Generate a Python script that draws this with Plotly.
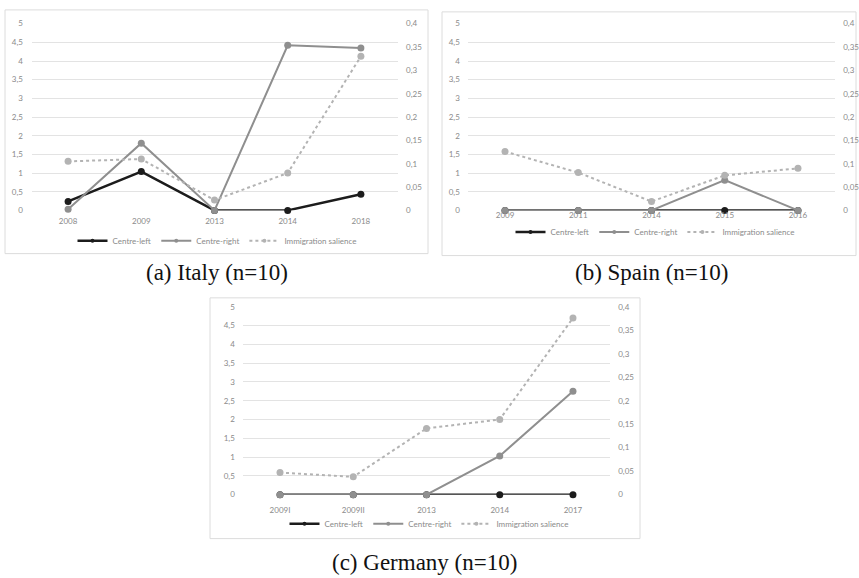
import plotly.graph_objects as go

# ---- data -------------------------------------------------------------
italy_years = ["2008", "2009", "2013", "2014", "2018"]
italy_centre_left = [0.24, 1.04, 0, 0, 0.43]
italy_centre_right = [0.03, 1.80, 0, 4.42, 4.35]
italy_salience = [0.105, 0.110, 0.022, 0.080, 0.330]

spain_years = ["2009", "2011", "2014", "2015", "2016"]
spain_centre_left = [0, 0, 0, 0, 0]
spain_centre_right = [0, 0, 0, 0.81, 0]
spain_salience = [0.126, 0.081, 0.019, 0.075, 0.090]

germany_years = ["2009I", "2009II", "2013", "2014", "2017"]
germany_centre_left = [0, 0, 0, 0, 0]
germany_centre_right = [0, 0, 0, 1.03, 2.75]
germany_salience = [0.047, 0.038, 0.141, 0.160, 0.376]

series_names = ["Centre-left", "Centre-right", "Immigration salience"]
captions = ["(a) Italy (n=10)", "(b) Spain (n=10)", "(c) Germany (n=10)"]

# ---- page geometry (pixels) --------------------------------------------
W, H = 859, 578


def px(x):
    return x / W


def py(y):
    return 1 - y / H


SANS = "Lato"
TICK_FONT = dict(family=SANS, size=8, color="#8a8a8a")

# colour, line width, dash for each series
styles = [
    dict(color="#1c1c1c", width=2.5, dash="solid"),
    dict(color="#8f8f8f", width=2, dash="solid"),
    dict(color="#b3b3b3", width=2, dash="dot"),
]

panels = [
    dict(years=italy_years, series=[italy_centre_left, italy_centre_right, italy_salience],
         x0=31.5, x1=397.5, ytop=19, ybot=209, standoff=5,
         legend_xy=(217, 240), frame=(5, 5, 428, 253), caption_xy=(217, 272)),
    dict(years=spain_years, series=[spain_centre_left, spain_centre_right, spain_salience],
         x0=468.4, x1=834.6, ytop=19, ybot=209, standoff=-1,
         legend_xy=(655, 231), frame=(442, 7, 856, 255), caption_xy=(652, 272)),
    dict(years=germany_years, series=[germany_centre_left, germany_centre_right, germany_salience],
         x0=243.4, x1=609.6, ytop=307, ybot=498.3, standoff=9,
         legend_xy=(429, 528), frame=(210, 298, 640, 543), caption_xy=(424, 567)),
]

fig = go.Figure()
layout = dict(
    width=W, height=H,
    margin=dict(l=0, r=0, t=0, b=0),
    paper_bgcolor="white", plot_bgcolor="white",
    separators=",.",
    shapes=[], annotations=[],
)

for i, p in enumerate(panels):
    n = i + 1
    xa = "x" if n == 1 else f"x{n}"
    ya_left = "y" if n == 1 else f"y{2 * n - 1}"
    ya_right = f"y{2 * n}"
    leg = "legend" if n == 1 else f"legend{n}"

    for k, (name, values, st) in enumerate(zip(series_names, p["series"], styles)):
        ya = ya_right if k == 2 else ya_left
        # plotted series
        fig.add_trace(go.Scatter(
            x=p["years"], y=values, xaxis=xa, yaxis=ya, name=name,
            mode="lines+markers", cliponaxis=False, showlegend=False, hoverinfo="skip",
            line=dict(color=st["color"], width=st["width"], dash=st["dash"]),
            marker=dict(color=st["color"], size=7)))
        # compact legend key (no data of its own)
        fig.add_trace(go.Scatter(
            x=[None], y=[None], xaxis=xa, yaxis=ya, name=name, legend=leg,
            mode="lines+markers", showlegend=True, hoverinfo="skip",
            line=dict(color=st["color"], width=st["width"], dash=st["dash"]),
            marker=dict(color=st["color"], size=4)))

    xkey = "xaxis" if n == 1 else f"xaxis{n}"
    ylkey = "yaxis" if n == 1 else f"yaxis{2 * n - 1}"
    yrkey = f"yaxis{2 * n}"
    ydom = [py(p["ybot"]), py(p["ytop"])]

    layout[xkey] = dict(domain=[px(p["x0"]), px(p["x1"])], anchor=ya_left,
                        type="category", range=[-0.5, 4.5],
                        showgrid=False, zeroline=False, showline=False,
                        ticks="", tickfont=TICK_FONT, ticklabelstandoff=p["standoff"],
                        fixedrange=True)
    layout[ylkey] = dict(domain=ydom, anchor=xa, range=[0, 5], dtick=0.5, tick0=0,
                         showgrid=True, gridcolor="#e3e3e3", gridwidth=1,
                         zeroline=False, showline=False,
                         ticks="outside", ticklen=6, tickcolor="rgba(0,0,0,0)",
                         tickfont=TICK_FONT, fixedrange=True)
    layout[yrkey] = dict(overlaying=ya_left, side="right", anchor=xa,
                         range=[0, 0.4], dtick=0.05, tick0=0,
                         showgrid=False, zeroline=False, showline=False,
                         ticks="outside", ticklen=6, tickcolor="rgba(0,0,0,0)",
                         tickfont=TICK_FONT, fixedrange=True)

    lx, ly = p["legend_xy"]
    layout[leg] = dict(orientation="h", x=px(lx), y=py(ly), xanchor="center", yanchor="middle",
                       font=dict(family=SANS, size=8, color="#8a8a8a"),
                       bgcolor="rgba(0,0,0,0)", itemwidth=30, tracegroupgap=0,
                       itemclick=False, itemdoubleclick=False)

    fx0, fy0, fx1, fy1 = p["frame"]
    layout["shapes"].append(dict(type="rect", xref="paper", yref="paper",
                                 x0=px(fx0), x1=px(fx1), y0=py(fy1), y1=py(fy0),
                                 line=dict(color="#dcdcdc", width=1), layer="below"))

    cx, cy = p["caption_xy"]
    layout["annotations"].append(dict(text=captions[i], xref="paper", yref="paper",
                                      x=px(cx), y=py(cy), xanchor="center", yanchor="middle",
                                      showarrow=False,
                                      font=dict(family="Liberation Serif", size=23,
                                                color="#111111")))

fig.update_layout(**layout)
fig.write_html("out.html")
